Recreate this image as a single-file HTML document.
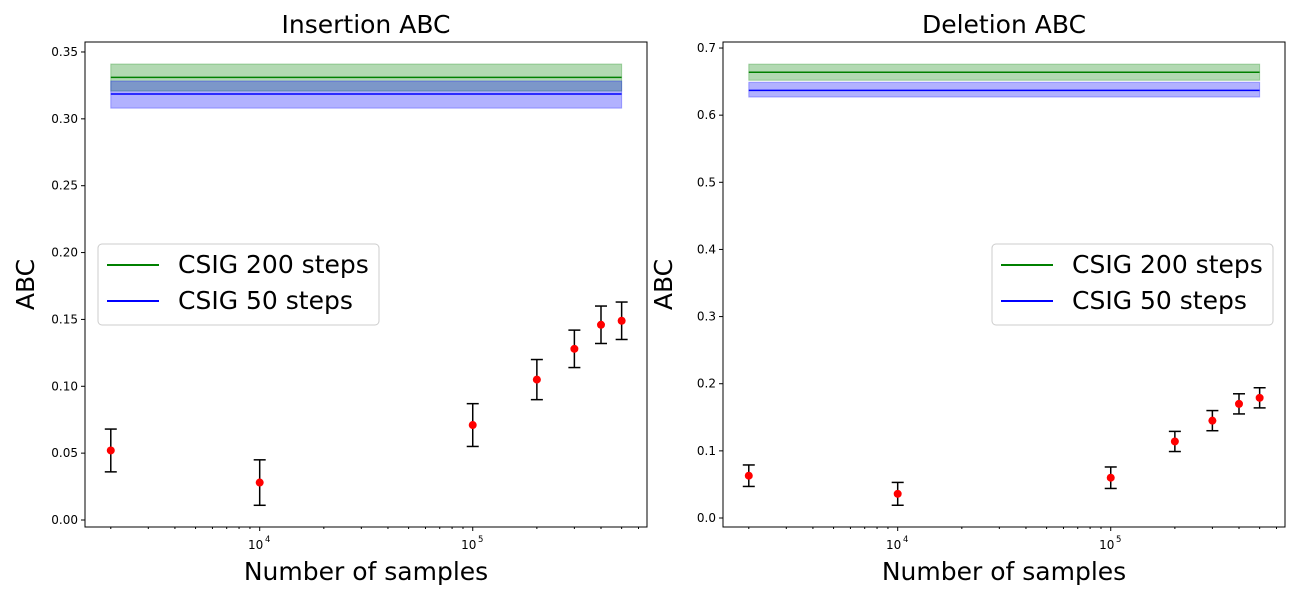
<!DOCTYPE html>
<html><head><meta charset="utf-8"><style>
html,body{margin:0;padding:0;background:#fff;}
svg{display:block;font-family:"DejaVu Sans","Liberation Sans",sans-serif;}
</style></head><body>
<svg id="fig" width="1300" height="600" xmlns="http://www.w3.org/2000/svg"></svg>
<script>
const samples = [2000, 10000, 100000, 200000, 300000, 400000, 500000];
const insMean = [0.052, 0.028, 0.071, 0.105, 0.128, 0.146, 0.149];
const insErr  = [0.016, 0.017, 0.016, 0.015, 0.014, 0.014, 0.014];
const delMean = [0.063, 0.036, 0.060, 0.114, 0.145, 0.170, 0.179];
const delErr  = [0.016, 0.017, 0.016, 0.015, 0.015, 0.015, 0.015];
const insRef200 = [0.331, 0.3208, 0.341];
const insRef50  = [0.3186, 0.308, 0.3283];
const delRef200 = [0.664, 0.652, 0.676];
const delRef50  = [0.637, 0.627, 0.649];
const insTicks = [0.00,0.05,0.10,0.15,0.20,0.25,0.30,0.35];
const insTickLabels = ["0.00","0.05","0.10","0.15","0.20","0.25","0.30","0.35"];
const delTicks = [0,0.1,0.2,0.3,0.4,0.5,0.6,0.7];
const delTickLabels = ["0.0","0.1","0.2","0.3","0.4","0.5","0.6","0.7"];

const NS="http://www.w3.org/2000/svg";
const svg=document.getElementById('fig');
function mk(tag,attrs,parent,text){const e=document.createElementNS(NS,tag);for(const k in attrs)e.setAttribute(k,attrs[k]);if(text!==undefined)e.textContent=text;(parent||svg).appendChild(e);return e;}

function panel(o){
  const g=mk('g',{});
  
  
  const L=o.left,R=o.left+562,T=42,B=527;
  const lx0=3.18,lx1=5.818;
  const X=v=>L+(Math.log10(v)-lx0)/(lx1-lx0)*(R-L);
  const Y=v=>o.y0px-(v/o.yUnit)*o.yUnitPx;
  [[o.r200,'green','rgba(0,128,0,0.3)','band-200-steps'],[o.r50,'blue','rgba(0,0,255,0.3)','band-50-steps']].forEach(([r,c,f,n])=>{
    const x0=X(samples[0]),x1=X(samples[samples.length-1]);
    const b=mk('rect',{x:x0,y:Y(r[2]),width:x1-x0,height:Y(r[1])-Y(r[2]),fill:f,stroke:f,'stroke-width':1},g);
    
    
    const l=mk('line',{x1:x0,x2:x1,y1:Y(r[0]),y2:Y(r[0]),stroke:c,'stroke-width':1.5},g);
    
    
  });
  samples.forEach((s,i)=>{
    const x=X(s),m=o.mean[i],e=o.err[i];
    const eg=mk('g',{stroke:'#000','stroke-width':1.5},g);
    
    
    mk('line',{x1:x,x2:x,y1:Y(m-e),y2:Y(m+e)},eg);
    mk('line',{x1:x-6,x2:x+6,y1:Y(m-e),y2:Y(m-e)},eg);
    mk('line',{x1:x-6,x2:x+6,y1:Y(m+e),y2:Y(m+e)},eg);
    const p=mk('circle',{cx:x,cy:Y(m),r:4,fill:'red'},g);
    
    
  });
  const fr=mk('rect',{x:L,y:T,width:R-L,height:B-T,fill:'none',stroke:'#000','stroke-width':1},g);
  
  
  o.ticks.forEach((t,i)=>{const y=Y(t);mk('line',{x1:L-4,x2:L,y1:y,y2:y,stroke:'#000'},g);
    const tx=mk('text',{x:L-7,y:y+4,'text-anchor':'end','font-size':12},g,o.tickLabels[i]);
    
    });
  for(let d=3;d<=5;d++){for(let k=1;k<10;k++){const v=k*Math.pow(10,d);const lv=Math.log10(v);if(lv<lx0||lv>lx1)continue;const x=X(v);
    if(k===1){mk('line',{x1:x,x2:x,y1:B,y2:B+4,stroke:'#000'},g);
      const tx=mk('text',{x:x-4,y:B+22,'text-anchor':'middle','font-size':12},g,'10');
      
      
      mk('text',{x:x+8,y:B+15,'text-anchor':'middle','font-size':8.5},g,String(d));
    } else mk('line',{x1:x,x2:x,y1:B,y2:B+2,stroke:'#000'},g);}}
  const tt=mk('text',{x:(L+R)/2,y:33,'text-anchor':'middle','font-size':25},g,o.title);
  
  
  const xl=mk('text',{x:(L+R)/2,y:580,'text-anchor':'middle','font-size':25},g,'Number of samples');
  
  
  const yl=mk('text',{x:0,y:0,'text-anchor':'middle','font-size':25,transform:`translate(${L-51},${(T+B)/2}) rotate(-90)`},g,'ABC');
  
  
  const lg=mk('g',{},g);
  
  
  const lx=o.legX;
  mk('rect',{x:lx,y:244,width:281,height:81,rx:4,fill:'rgba(255,255,255,0.8)',stroke:'#ccc'},lg);
  mk('line',{x1:lx+9,x2:lx+61,y1:265,y2:265,stroke:'green','stroke-width':2},lg);
  mk('line',{x1:lx+9,x2:lx+61,y1:301,y2:301,stroke:'blue','stroke-width':2},lg);
  const e1=mk('text',{x:lx+80,y:273,'font-size':25},lg,'CSIG 200 steps');
  
  
  const e2=mk('text',{x:lx+80,y:309,'font-size':25},lg,'CSIG 50 steps');
  
  
}
panel({name:'insertion-panel',left:85,title:'Insertion ABC',mean:insMean,err:insErr,r200:insRef200,r50:insRef50,ticks:insTicks,tickLabels:insTickLabels,y0px:520,yUnit:0.05,yUnitPx:66.86,legX:98});
panel({name:'deletion-panel',left:723,title:'Deletion ABC',mean:delMean,err:delErr,r200:delRef200,r50:delRef50,ticks:delTicks,tickLabels:delTickLabels,y0px:518,yUnit:0.1,yUnitPx:67.14,legX:992});
</script>
</body></html>
